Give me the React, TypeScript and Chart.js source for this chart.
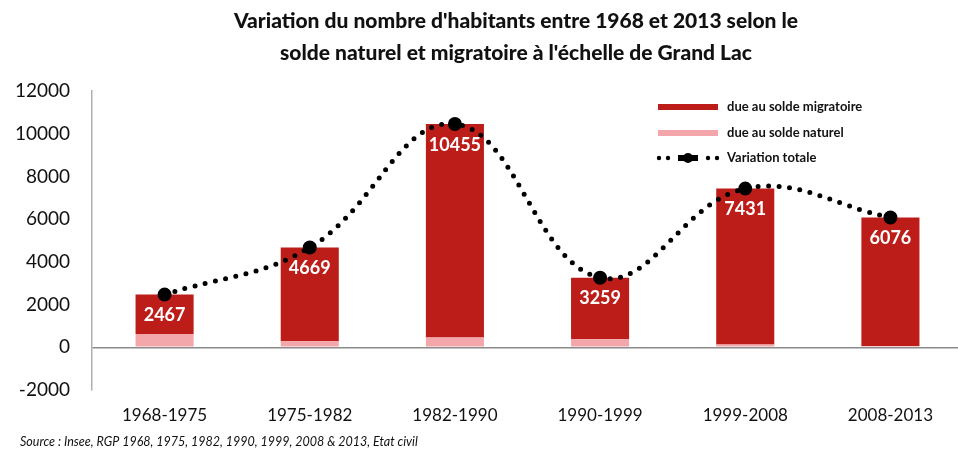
import React, { useEffect, useRef } from "react";
import { Chart, registerables } from "chart.js";

Chart.register(...registerables);

const categories = ["1968-1975", "1975-1982", "1982-1990", "1990-1999", "1999-2008", "2008-2013"];
const totalVariation = [2467, 4669, 10455, 3259, 7431, 6076];
const naturalBalance = [620, 280, 460, 380, 130, 60];
const migratoryBalance = [1847, 4389, 9995, 2879, 7301, 6016];
const yTicks = [-2000, 0, 2000, 4000, 6000, 8000, 10000, 12000];

const titleLines = [
  "Variation du nombre d'habitants entre 1968 et 2013 selon le",
  "solde naturel et migratoire à l'échelle de Grand Lac",
];
const sourceText = "Source : Insee, RGP 1968, 1975, 1982, 1990, 1999, 2008 & 2013, Etat civil";

const RED = "#BC1D19";
const PINK = "#F3A7AB";
const FONT = "Lato, 'Open Sans', sans-serif";

const decorPlugin = {
  id: "decor",
  afterDatasetsDraw(chart: any) {
    const ctx = chart.ctx;
    const x = chart.scales.x;
    const y = chart.scales.y;
    ctx.save();
    ctx.fillStyle = "#ffffff";
    ctx.font = `bold 18px ${FONT}`;
    ctx.textAlign = "center";
    ctx.textBaseline = "middle";
    totalVariation.forEach((v, i) => {
      ctx.fillText(String(v), x.getPixelForValue(i), y.getPixelForValue(v) + 21);
    });
    const lx = 658;
    const rows = [107, 133, 158];
    ctx.fillStyle = RED;
    ctx.fillRect(lx, rows[0] - 3, 60, 6);
    ctx.fillStyle = PINK;
    ctx.fillRect(lx, rows[1] - 3, 60, 6);
    ctx.fillStyle = "#000";
    [659, 668, 708, 717].forEach((dx) => {
      ctx.beginPath();
      ctx.arc(dx, rows[2], 2.2, 0, Math.PI * 2);
      ctx.fill();
    });
    ctx.beginPath();
    ctx.arc(688, rows[2], 5, 0, Math.PI * 2);
    ctx.fill();
    ctx.fillRect(678, rows[2] - 3, 20, 6);
    ctx.font = `bold 13px ${FONT}`;
    ctx.textAlign = "left";
    ctx.fillStyle = "#111";
    ctx.fillText("due au solde migratoire", 727, rows[0]);
    ctx.fillText("due au solde naturel", 727, rows[1]);
    ctx.fillText("Variation totale", 727, rows[2]);
    ctx.restore();
  },
  afterDraw(chart: any) {
    const ctx = chart.ctx;
    ctx.save();
    ctx.fillStyle = "#111";
    ctx.font = `900 21px ${FONT}`;
    ctx.textAlign = "center";
    ctx.textBaseline = "middle";
    ctx.fillText(titleLines[0], 516, 21, 570);
    ctx.fillText(titleLines[1], 516, 53, 550);
    ctx.font = `italic 12.5px ${FONT}`;
    ctx.textAlign = "left";
    ctx.fillText(sourceText, 20, 442, 482);
    ctx.restore();
  },
};

export default function App() {
  const ref = useRef<HTMLCanvasElement>(null);
  useEffect(() => {
    document.body.style.margin = "0";
    document.body.style.overflow = "hidden";
    const chart = new Chart(ref.current as HTMLCanvasElement, {
      type: "bar",
      data: {
        labels: categories,
        datasets: [
          {
            type: "line",
            label: "Variation totale",
            data: totalVariation,
            borderColor: "#000",
            borderWidth: 5,
            borderDash: [0, 10.5],
            borderCapStyle: "round",
            tension: 0.4,
            pointRadius: 4.5,
            pointBackgroundColor: "#000",
            pointBorderColor: "#000",
            stack: "line",
            order: 0,
          } as any,
          {
            type: "bar",
            label: "due au solde naturel",
            data: naturalBalance,
            backgroundColor: PINK,
            stack: "bars",
            categoryPercentage: 0.8,
            barPercentage: 0.5,
            order: 1,
          },
          {
            type: "bar",
            label: "due au solde migratoire",
            data: migratoryBalance,
            backgroundColor: RED,
            stack: "bars",
            categoryPercentage: 0.8,
            barPercentage: 0.5,
            order: 2,
          },
        ],
      },
      options: {
        animation: false,
        responsive: false,
        layout: { padding: { top: 91, left: 0, right: 27, bottom: 0 } },
        plugins: { legend: { display: false }, title: { display: false }, tooltip: { enabled: false } },
        scales: {
          x: {
            stacked: true,
            grid: { display: false, drawTicks: false },
            border: { display: false },
            ticks: { color: "#111", font: { family: FONT, size: 17 }, padding: 15 },
            afterFit: (s: any) => { s.height = 65; },
          },
          y: {
            stacked: true,
            min: -2000,
            max: 12000,
            afterBuildTicks: (s: any) => { s.ticks = yTicks.map((v) => ({ value: v })); },
            grid: {
              drawTicks: false,
              color: (c: any) => (c.tick && c.tick.value === 0 ? "#8a8a8a" : "transparent"),
              lineWidth: 1.5,
            },
            border: { display: true, color: "#b0b0b0", width: 1.5 },
            ticks: {
              color: "#111",
              font: { family: FONT, size: 19 },
              padding: 22,
              callback: (v: any) => String(v),
            },
            afterFit: (s: any) => { s.width = 92; },
          },
        },
      },
      plugins: [decorPlugin],
    } as any);
    return () => chart.destroy();
  }, []);
  return (
    <div style={{ width: 958, height: 455, overflow: "hidden" }}>
      <canvas ref={ref} width={990} height={455} style={{ display: "block" }} />
    </div>
  );
}
